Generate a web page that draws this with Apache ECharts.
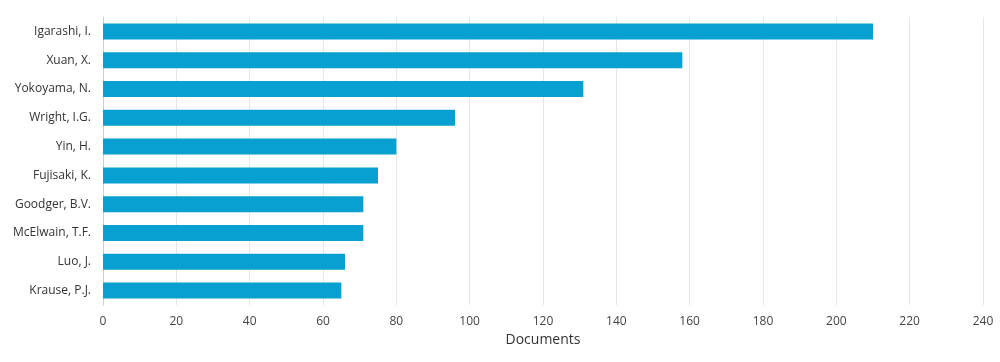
<!DOCTYPE html>
<html><head><meta charset="utf-8">
<script src="https://cdn.jsdelivr.net/npm/echarts@6/dist/echarts.min.js"></script>
<style>html,body{margin:0;padding:0;background:#fff}#c{width:1000px;height:362px}</style>
</head><body><div id="c"></div>
<script>
const categories = ["Igarashi, I.","Xuan, X.","Yokoyama, N.","Wright, I.G.","Yin, H.","Fujisaki, K.","Goodger, B.V.","McElwain, T.F.","Luo, J.","Krause, P.J."];
const documents = [210,158,131,96,80,75,71,71,66,65];
const xTicks = [0,20,40,60,80,100,120,140,160,180,200,220,240];
const chart = echarts.init(document.getElementById('c'));
chart.setOption({
  animation:false,
  grid:{left:103,right:17,top:17,bottom:57,containLabel:false},
  xAxis:{type:'value',min:xTicks[0],max:xTicks[xTicks.length-1],interval:20,
    name:'Documents',nameLocation:'middle',nameGap:28,
    nameTextStyle:{fontFamily:'Open Sans',fontSize:14,color:'#333'},
    axisLine:{show:false},axisTick:{show:false},
    axisLabel:{fontFamily:'Open Sans',fontSize:12,color:'#444',margin:11},
    splitLine:{lineStyle:{color:'#e6e6e6',width:1}}},
  yAxis:{type:'category',data:categories,inverse:true,
    axisLine:{show:true,lineStyle:{color:'#cfcfcf'}},axisTick:{show:false},
    axisLabel:{fontFamily:'Open Sans',fontSize:12,color:'#333',margin:12}},
  series:[{type:'bar',data:documents,barWidth:16,itemStyle:{color:'#07a0d0'}}]
});
</script></body></html>
